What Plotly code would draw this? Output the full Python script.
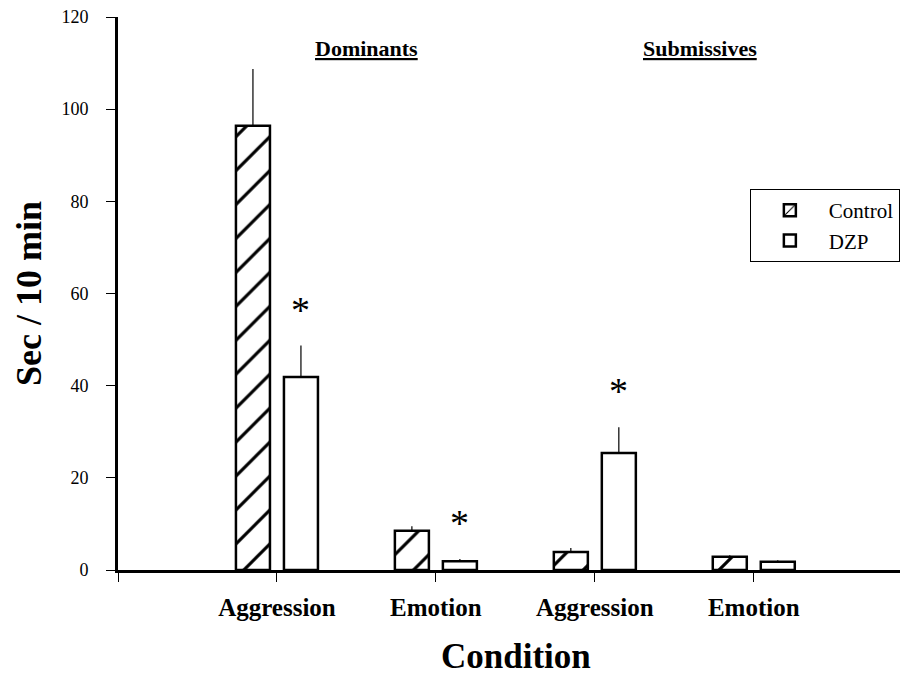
import plotly.graph_objects as go

# ---- data ----
conditions = ["Aggression", "Emotion", "Aggression", "Emotion"]
groups = ["Dominants", "Submissives"]
control_vals = [96.4, 8.5, 3.9, 2.9]
control_err = [12.3, 1.0, 0.9, 0.3]
dzp_vals = [41.9, 1.9, 25.4, 1.8]
dzp_err = [6.8, 0.5, 5.6, 0.3]
significant = [True, True, True, False]  # DZP vs Control
y_ticks = [0, 20, 40, 60, 80, 100, 120]
x_title = "Condition"
y_title = "Sec / 10 min"

FONT = "Liberation Serif, Times New Roman, serif"
pos = list(range(1, len(conditions) + 1))
bar_w = 0.214

fig = go.Figure()
fig.add_trace(go.Bar(
    x=pos, y=control_vals, name="Control",
    width=bar_w, offset=-0.258,
    marker=dict(color="white", line=dict(color="black", width=2.5),
                pattern=dict(shape="/", fgcolor="black", bgcolor="white",
                             fgopacity=1, size=24, solidity=0.13,
                             fillmode="overlay")),
    error_y=dict(type="data", symmetric=False, array=control_err,
                 arrayminus=[0] * 4, color="black", thickness=1.2, width=0),
))
fig.add_trace(go.Bar(
    x=pos, y=dzp_vals, name="DZP",
    width=bar_w, offset=0.044,
    marker=dict(color="white", line=dict(color="black", width=2.5)),
    error_y=dict(type="data", symmetric=False, array=dzp_err,
                 arrayminus=[0] * 4, color="black", thickness=1.2, width=0),
))

annotations = []
for p, v, e, s in zip(pos, dzp_vals, dzp_err, significant):
    if s:
        annotations.append(dict(x=p + 0.151, y=v + e, xref="x", yref="y",
                                text="*", showarrow=False, yanchor="middle",
                                yshift=36, font=dict(family=FONT, size=38, color="black")))
for g, gx in zip(groups, [1.566, 3.66]):
    annotations.append(dict(x=gx, y=113.2, xref="x", yref="y",
                            text=f"<b><u>{g}</u></b>", showarrow=False,
                            font=dict(family=FONT, size=22, color="black")))
annotations.append(dict(x=0.509, y=-0.157, xref="paper", yref="paper",
                        text=f"<b>{x_title}</b>", showarrow=False,
                        xanchor="center", yanchor="middle",
                        font=dict(family=FONT, size=35, color="black")))

fig.update_layout(
    width=900, height=676,
    margin=dict(l=118, r=0, t=17, b=106),
    paper_bgcolor="white", plot_bgcolor="white",
    font=dict(family=FONT, color="black"),
    showlegend=True,
    legend=dict(x=0.808, y=0.689, xanchor="left", yanchor="top",
                bordercolor="black", borderwidth=1, bgcolor="white",
                font=dict(family=FONT, size=21, color="black"),
                itemwidth=68, tracegroupgap=2),
    annotations=annotations,
    xaxis=dict(range=[0, 4.92], tickvals=[0] + pos,
               ticktext=[""] + [f"<b>{c}</b>" for c in conditions],
               showline=True, linecolor="black", linewidth=3,
               ticks="outside", ticklen=9, tickwidth=1, tickcolor="black",
               ticklabelstandoff=4, automargin=False,
               showgrid=False, zeroline=False,
               tickfont=dict(family=FONT, size=25, color="black")),
    yaxis=dict(range=[0, 120], tickvals=y_ticks,
               showline=True, linecolor="black", linewidth=3,
               ticks="outside", ticklen=9, tickwidth=1, tickcolor="black",
               ticklabelstandoff=14, ticklabeloverflow="allow", automargin=False,
               showgrid=False, zeroline=False,
               tickfont=dict(family=FONT, size=18, color="black"),
               title=dict(text=f"<b>{y_title}</b>", standoff=9,
                          font=dict(family=FONT, size=36, color="black"))),
)

fig.write_html(
    "out.html",
    config={"displayModeBar": False},
    post_script="document.body.style.margin='0';document.body.style.overflow='hidden';",
)
